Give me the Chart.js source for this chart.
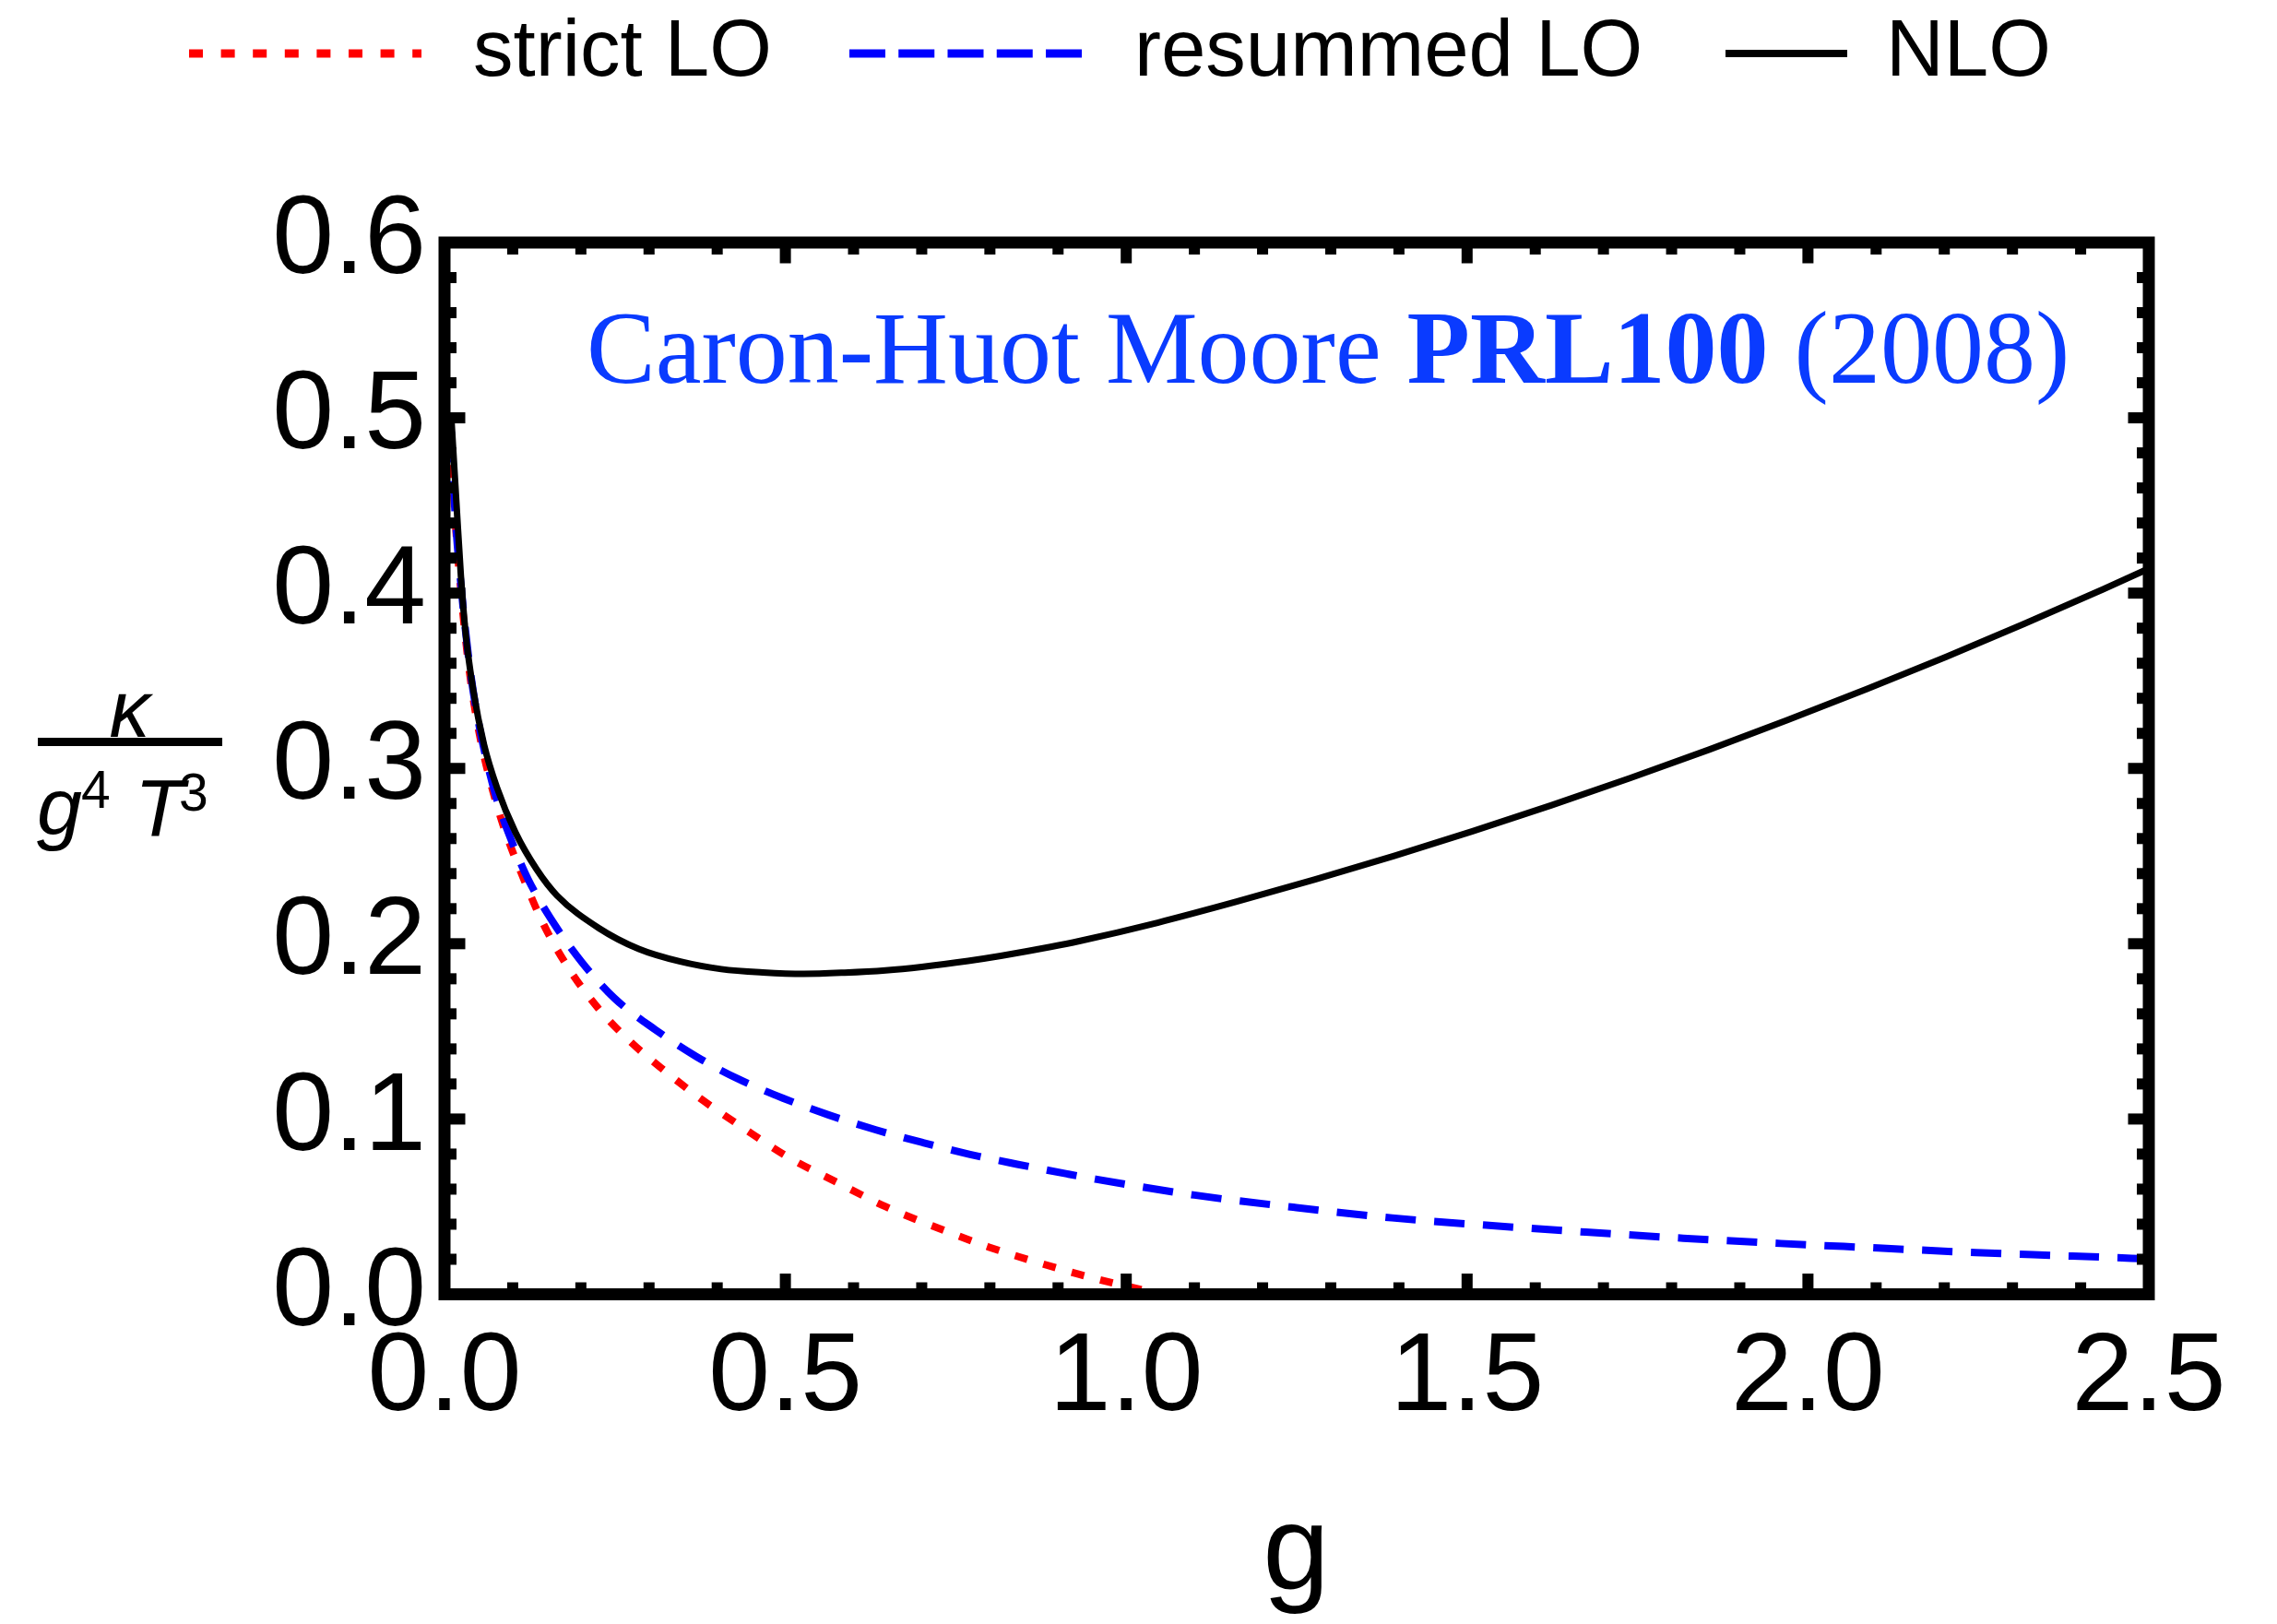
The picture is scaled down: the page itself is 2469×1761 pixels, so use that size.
<!DOCTYPE html>
<html><head><meta charset="utf-8">
<script src="https://cdn.jsdelivr.net/npm/chart.js@4.4.1/dist/chart.umd.min.js"></script>
<style>
html,body{margin:0;padding:0;background:#fff;}
#wrap{position:relative;width:2469px;height:1761px;overflow:hidden;background:#fff;}
#c{position:absolute;left:0;top:0;width:2469px;height:1761px;}
.t{position:absolute;white-space:nowrap;line-height:1;color:#000;font-family:'Liberation Sans',Arial,sans-serif;}
</style></head><body>
<div id="wrap">
<canvas id="c" width="2469" height="1761"></canvas>
<svg style="position:absolute;left:0;top:0" width="2469" height="120">
  <line x1="205" y1="58" x2="457" y2="58" stroke="#ff0000" stroke-width="9" stroke-dasharray="15 19.6"/>
  <line x1="921" y1="58" x2="1173" y2="58" stroke="#0000ff" stroke-width="9" stroke-dasharray="39 14.25"/>
  <line x1="1871" y1="58" x2="2003" y2="58" stroke="#000000" stroke-width="8"/>
</svg>
<div class="t" style="left:513px;top:8px;font-size:87px">strict LO</div>
<div class="t" style="left:1230px;top:8px;font-size:87px">resummed LO</div>
<div class="t" style="left:2045px;top:8px;font-size:87px">NLO</div>

<div class="t" style="left:636px;top:321px;font-size:112px;font-family:'Liberation Serif','Times New Roman',serif;color:#0a3bff">Caron-Huot Moore <b>PRL100</b> (2008)</div>

<div class="t" style="left:40px;width:201px;text-align:center;top:725px;font-size:88px;font-style:italic">κ</div>
<div style="position:absolute;left:41px;top:800px;width:200px;height:9px;background:#000"></div>
<div class="t" style="left:40px;top:831px;font-size:88px;font-style:italic">g</div>
<div class="t" style="left:88px;top:828px;font-size:57px">4</div>
<div class="t" style="left:146px;top:832px;font-size:88px;font-style:italic">T</div>
<div class="t" style="left:194px;top:831px;font-size:57px">3</div>

<div class="t" style="left:1305px;width:201px;text-align:center;top:1613px;font-size:130px">g</div>
</div>
<script>
// ---- data ----
const gNLO = [0.010,0.018,0.024,0.031,0.042,0.058,0.077,0.104,0.135,0.165,0.226,0.285,0.346,0.406,0.467,0.527,0.587,0.647,0.700,0.768,0.816,0.889,0.931,1.046,1.162,1.277,1.393,1.508,1.624,1.739,1.855,1.970,2.086,2.202,2.317,2.433,2.500];
const vNLO = [0.500,0.448,0.410,0.377,0.345,0.3135,0.289,0.2635,0.2425,0.2275,0.209,0.197,0.1898,0.1855,0.1836,0.1828,0.1835,0.1848,0.1868,0.1902,0.1931,0.1982,0.2015,0.2120,0.2240,0.2367,0.2501,0.2642,0.2790,0.2945,0.3107,0.3276,0.3452,0.3635,0.3825,0.4022,0.4140];

const gStrict = [0.010,0.015,0.025,0.037,0.050,0.071,0.090,0.114,0.146,0.182,0.225,0.273,0.322,0.376,0.436,0.503,0.575,0.647,0.726,0.798,0.876,0.930,0.980,1.030,1.070];
const vStrict = [0.490,0.447,0.397,0.354,0.322,0.287,0.263,0.239,0.2105,0.186,0.1634,0.144,0.1278,0.1115,0.0955,0.0785,0.0640,0.0500,0.0375,0.0270,0.0175,0.0115,0.0065,0.0020,-0.0020];

const gResum = [0.010,0.015,0.025,0.037,0.050,0.074,0.100,0.123,0.159,0.201,0.249,0.309,0.370,0.430,0.497,0.563,0.632,0.702,0.771,0.840,0.913,0.955,1.100,1.245,1.390,1.528,1.674,1.817,1.960,2.103,2.246,2.388,2.500];
const vResum = [0.492,0.449,0.401,0.358,0.326,0.2860,0.2570,0.2365,0.2124,0.1897,0.169,0.151,0.1355,0.123,0.1118,0.1024,0.0939,0.0865,0.0798,0.0742,0.0687,0.0657,0.0566,0.0497,0.0436,0.0394,0.0355,0.0320,0.0290,0.0264,0.0238,0.0218,0.0202];

const seriesNames = ['NLO','resummed LO','strict LO'];
const xTickValues = [0,0.5,1.0,1.5,2.0,2.5];
const xTickLabels = ['0.0','0.5','1.0','1.5','2.0','2.5'];
const yTickValues = [0,0.1,0.2,0.3,0.4,0.5,0.6];
const yTickLabels = ['0.0','0.1','0.2','0.3','0.4','0.5','0.6'];
const xMinorStep = 0.1, yMinorStep = 0.02;

const pts = (g, v) => g.map((x, i) => ({x: x, y: v[i]}));

function labelFor(values, labels, v){
  for (let i = 0; i < values.length; i++) if (Math.abs(values[i] - v) < 1e-6) return labels[i];
  return '';
}

const framePlugin = {
  id: 'frame',
  afterDatasetsDraw(chart){
    const {ctx, chartArea: a, scales: {x, y}} = chart;
    ctx.save();
    ctx.strokeStyle = '#000';
    ctx.fillStyle = '#000';
    ctx.lineWidth = 13;
    ctx.lineJoin = 'miter';
    ctx.strokeRect(a.left, a.top, a.right - a.left, a.bottom - a.top);
    const tw = 12, minorLen = 13, majorLen = 22.5;
    const nx = Math.round((x.max - x.min) / xMinorStep);
    for (let i = 1; i < nx; i++) {
      const v = x.min + i * xMinorStep;
      const major = xTickValues.some(t => Math.abs(t - v) < 1e-6);
      const len = major ? majorLen : minorLen;
      const p = x.getPixelForValue(v);
      ctx.fillRect(p - tw / 2, a.bottom - len, tw, len);
      ctx.fillRect(p - tw / 2, a.top, tw, len);
    }
    const ny = Math.round((y.max - y.min) / yMinorStep);
    for (let i = 1; i < ny; i++) {
      const v = y.min + i * yMinorStep;
      const major = yTickValues.some(t => Math.abs(t - v) < 1e-6);
      const len = major ? majorLen : minorLen;
      const p = y.getPixelForValue(v);
      ctx.fillRect(a.left, p - tw / 2, len, tw);
      ctx.fillRect(a.right - len, p - tw / 2, len, tw);
    }
    ctx.restore();
  }
};

new Chart(document.getElementById('c'), {
  type: 'scatter',
  data: {
    datasets: [
      {label: seriesNames[0], data: pts(gNLO, vNLO), borderColor: '#000000', borderWidth: 7},
      {label: seriesNames[1], data: pts(gResum, vResum), borderColor: '#0000ff', borderWidth: 8, borderDash: [33, 20]},
      {label: seriesNames[2], data: pts(gStrict, vStrict), borderColor: '#ff0000', borderWidth: 8, borderDash: [14, 18]}
    ].map(d => Object.assign(d, {showLine: true, pointRadius: 0, pointHoverRadius: 0, fill: false, cubicInterpolationMode: 'monotone', borderCapStyle: 'butt'}))
  },
  options: {
    responsive: false,
    devicePixelRatio: 1,
    animation: false,
    events: [],
    layout: {padding: {left: 0, right: 139, top: 263, bottom: 0}},
    plugins: {legend: {display: false}, tooltip: {enabled: false}, title: {display: false}},
    scales: {
      x: {
        type: 'linear', position: 'bottom', min: 0, max: 2.5,
        afterFit: s => { s.height = 1761 - 1403.5; },
        afterBuildTicks: s => { s.ticks = xTickValues.map(v => ({value: v})); },
        grid: {display: false, drawTicks: false},
        border: {display: false},
        ticks: {
          autoSkip: false, maxRotation: 0, padding: 20, color: '#000',
          font: {family: "'Liberation Sans', Arial, sans-serif", size: 120},
          callback: v => labelFor(xTickValues, xTickLabels, v)
        }
      },
      y: {
        type: 'linear', position: 'left', min: 0, max: 0.6,
        afterFit: s => { s.width = 482; },
        afterBuildTicks: s => { s.ticks = yTickValues.map(v => ({value: v})); },
        grid: {display: false, drawTicks: false},
        border: {display: false},
        ticks: {
          autoSkip: false, padding: 20, color: '#000',
          font: {family: "'Liberation Sans', Arial, sans-serif", size: 120},
          callback: v => labelFor(yTickValues, yTickLabels, v)
        }
      }
    }
  },
  plugins: [framePlugin]
});
</script>
</body></html>
